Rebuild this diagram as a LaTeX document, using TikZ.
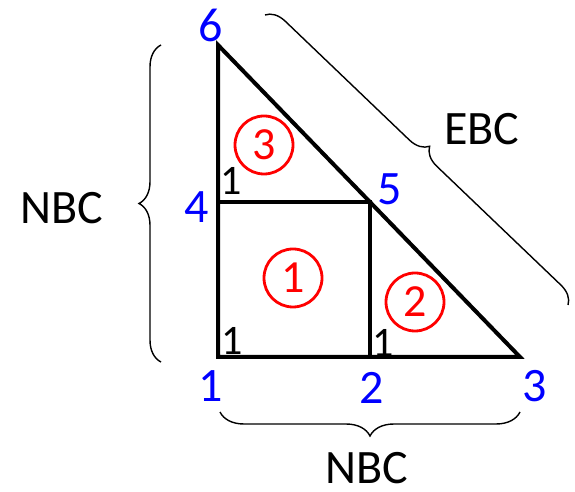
\documentclass[tikz,border=0pt]{standalone}
\usepackage{fontspec}
\setmainfont{Carlito}
\usetikzlibrary{positioning,decorations.pathreplacing}

\begin{document}
\begin{tikzpicture}[
  x=1pt, y=1pt,
  edge/.style={line width=4pt, line join=miter, black},
  split/.style={line width=3.2pt, black},
  vlbl/.style={text=blue, font=\fontsize{48}{50}\selectfont, inner sep=0pt},
  ang/.style={text=black, font=\fontsize{42}{44}\selectfont, inner sep=0pt},
  elem/.style={circle, draw=red, line width=2.8pt, text=red, inner sep=0pt,
               minimum size=58pt, font=\fontsize{46}{48}\selectfont},
  bc/.style={decorate, decoration={brace, amplitude=#1}, line width=1.4pt},
  bclbl/.style={font=\fontsize{48}{50}\selectfont, inner sep=0pt},
]
\useasboundingbox (0,0) rectangle (575,492);

% ---- mesh points ----
\coordinate (n1) at (218,135);
\coordinate (n2) at (370,135);
\coordinate (n3) at (520,135);
\coordinate (n4) at (218,290);
\coordinate (n5) at (370,290);
\coordinate (n6) at (218,447);

% ---- triangle and the cuts ----
\draw[edge] (n1) -- (n3) -- (n6) -- cycle;
\draw[split] (n4) -- (n5) -- (n2);

% ---- node numbers ----
\node[vlbl] (l1) at (211,106) {1};
\node[vlbl] (l2) at (372,104) {2};
\node[vlbl] (l3) at (535,106) {3};
\node[vlbl] (l4) at (197,285) {4};
\node[vlbl] (l5) at (390,303) {5};
\node[vlbl] (l6) at (211,467) {6};

% ---- local corner marks ----
\node[ang] (a1) at (232,151) {1};
\node[ang] (a2) at (383,149) {1};
\node[ang] (a4) at (231,311) {1};

% ---- elements ----
\node[elem] (e1) at (293,214) {1};
\node[elem] (e2) at (415,190) {2};
\node[elem] (e3) at (264,347) {3};

% ---- boundary braces ----
\coordinate (bl0) at (161,130);
\coordinate (bl1) at (161,447);
\coordinate (bb0) at (520,80);
\coordinate (bb1) at (220,80);
\coordinate (bd0) at (265,477);
\coordinate (bd1) at (568,187);
\draw[bc=22pt] (bl0) -- (bl1);
\draw[bc=24pt] (bb0) -- (bb1);
\draw[bc=19pt] (bd0) -- (bd1);
\node[bclbl] (nbcl) at (62,284) {NBC};
\node[bclbl, anchor=base] (nbcb) at (367,9) {NBC};
\node[bclbl] (ebc) at (482,363) {EBC};
\end{tikzpicture}
\end{document}
